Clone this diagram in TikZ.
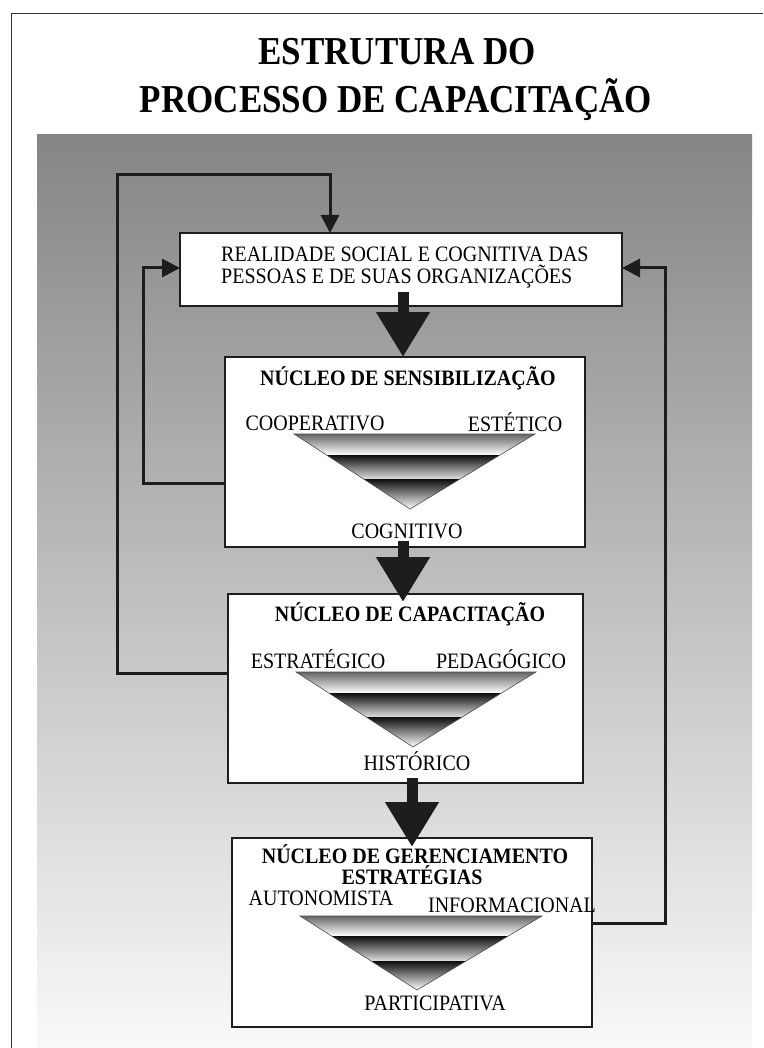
\documentclass[tikz,border=0pt]{standalone}
\usepackage{fontspec}
\setmainfont{Liberation Serif}
\usetikzlibrary{arrows.meta,calc}
\newcommand\bandtri[7]{%
  \begin{scope}
    \clip (#1,#4) -- (#2,#4) -- (#3,#7) -- cycle;
    \shade[top color=black!60, bottom color=white] (#1,#4) rectangle (#2,#5);
    \shade[top color=black!95, bottom color=black!12] (#1,#5) rectangle (#2,#6);
    \shade[top color=black!95, bottom color=white] (#1,#6) rectangle (#2,#7);
  \end{scope}
  \draw[black!70, line width=0.6pt] (#1,#4) -- (#2,#4) -- (#3,#7) -- cycle;}
\newcommand\tallA[1]{\scalebox{1}[1.1]{#1}}
\newcommand\tallB[1]{\scalebox{1}[1.13]{#1}}
\definecolor{bgtop}{RGB}{133,133,133}
\definecolor{bgmid}{RGB}{180,180,180}
\definecolor{bgbot}{RGB}{249,249,249}
\definecolor{ink}{RGB}{30,28,28}
\begin{document}
\begin{tikzpicture}[x=1pt,y=-1pt,
  box/.style={draw=ink, line width=1.2pt, fill=white, inner sep=0pt, outer sep=0pt},
  lbl/.style={font=\fontsize{20}{22}\selectfont, inner sep=0pt, text height=14.3pt, text depth=0pt, text=black},
  ttl/.style={font=\fontsize{20}{22}\selectfont\bfseries, inner sep=0pt, text height=14.3pt, text depth=0pt, text=black},
  head/.style={font=\fontsize{35}{40}\selectfont\bfseries, inner sep=0pt, text height=26pt, text depth=0pt, text=black},
  loopline/.style={draw=ink, line width=3pt, -{Triangle[length=18pt,width=18pt]}},
  bigarrow/.style={draw=ink, line width=11pt, -{Triangle[length=45pt,width=51pt]}},
]
\useasboundingbox (0,0) rectangle (763,1048);
\fill[white] (0,0) rectangle (763,1048);
% background panel
\shade[top color=bgtop, middle color=bgmid, bottom color=bgbot] (37,135) rectangle (752,1048);
% outer frame
\draw[line width=1pt, black!80] (11,1048) -- (11,14) -- (763,14);

% title
\node[head] (t1) at (397,52) {\tallB{ESTRUTURA DO}};
\node[head] (t2) at (396,100) {\tallB{PROCESSO DE CAPACITAÇÃO}};

% boxes
\node[box, minimum width=442pt, minimum height=73pt] (box1) at (401,269.5) {};
\node[box, minimum width=360pt, minimum height=190pt] (box2) at (405,452) {};
\node[box, minimum width=355pt, minimum height=189pt] (box3) at (405.5,688.5) {};
\node[box, minimum width=360pt, minimum height=189pt] (box4) at (412,932.5) {};

% box 1 text
\node[lbl, anchor=west] (r1a) at (221,254) {\tallA{REALIDADE SOCIAL E COGNITIVA DAS}};
\node[lbl, anchor=west] (r1b) at (221,276) {\tallA{PESSOAS E DE SUAS ORGANIZAÇÕES}};

% box 2
\node[ttl] (n2) at (408,378) {\tallA{NÚCLEO DE SENSIBILIZAÇÃO}};
\bandtri{294}{535}{410}{434}{455}{479}{509}
\node[lbl] (coop) at (315,423) {\tallA{COOPERATIVO}};
\node[lbl] (este) at (515,424) {\tallA{ESTÉTICO}};
\node[lbl] (cogn) at (407,531) {\tallA{COGNITIVO}};

% box 3
\node[ttl] (n3) at (410,614) {\tallA{NÚCLEO DE CAPACITAÇÃO}};
\bandtri{296}{536}{413}{672}{693}{717}{747}
\node[lbl] (estr) at (318,661) {\tallA{ESTRATÉGICO}};
\node[lbl] (peda) at (501,661) {\tallA{PEDAGÓGICO}};
\node[lbl] (hist) at (417,763) {\tallA{HISTÓRICO}};

% box 4
\node[ttl] (n4) at (415,856) {\tallA{NÚCLEO DE GERENCIAMENTO}};
\node[ttl] (n4b) at (412,877) {\tallA{ESTRATÉGIAS}};
\bandtri{300}{542}{417}{916}{936}{961}{990}
\node[lbl] (auto) at (321,898) {\tallA{AUTONOMISTA}};
\node[lbl] (info) at (512,905) {\tallA{INFORMACIONAL}};
\node[lbl] (part) at (435,1003) {\tallA{PARTICIPATIVA}};

% feedback loops
\coordinate (o1) at (117,673);
\coordinate (o2) at (117,175);
\coordinate (o3) at (330,175);
\draw[loopline] (box3.west |- o1) -- (o1) -- (o2) -- (o3) -- (o3 |- box1.north);
\coordinate (i1) at (143,483);
\coordinate (i2) at (143,268);
\draw[loopline] (box2.west |- i1) -- (i1) -- (i2) -- (i2 -| box1.west);
\coordinate (q1) at (665,923);
\coordinate (q2) at (665,268);
\draw[loopline] (box4.east |- q1) -- (q1) -- (q2) -- (q2 -| box1.east);

% big arrows
\coordinate (a1) at (403,292);
\draw[bigarrow] (a1) -- (a1 |- box2.north);
\coordinate (a2) at (403,541);
\draw[bigarrow] (a2) -- ($(a2 |- box3.north)+(0,8)$);
\coordinate (a3) at (412,778);
\draw[bigarrow] (a3) -- ($(a3 |- box4.north)+(0,9)$);
\end{tikzpicture}
\end{document}
